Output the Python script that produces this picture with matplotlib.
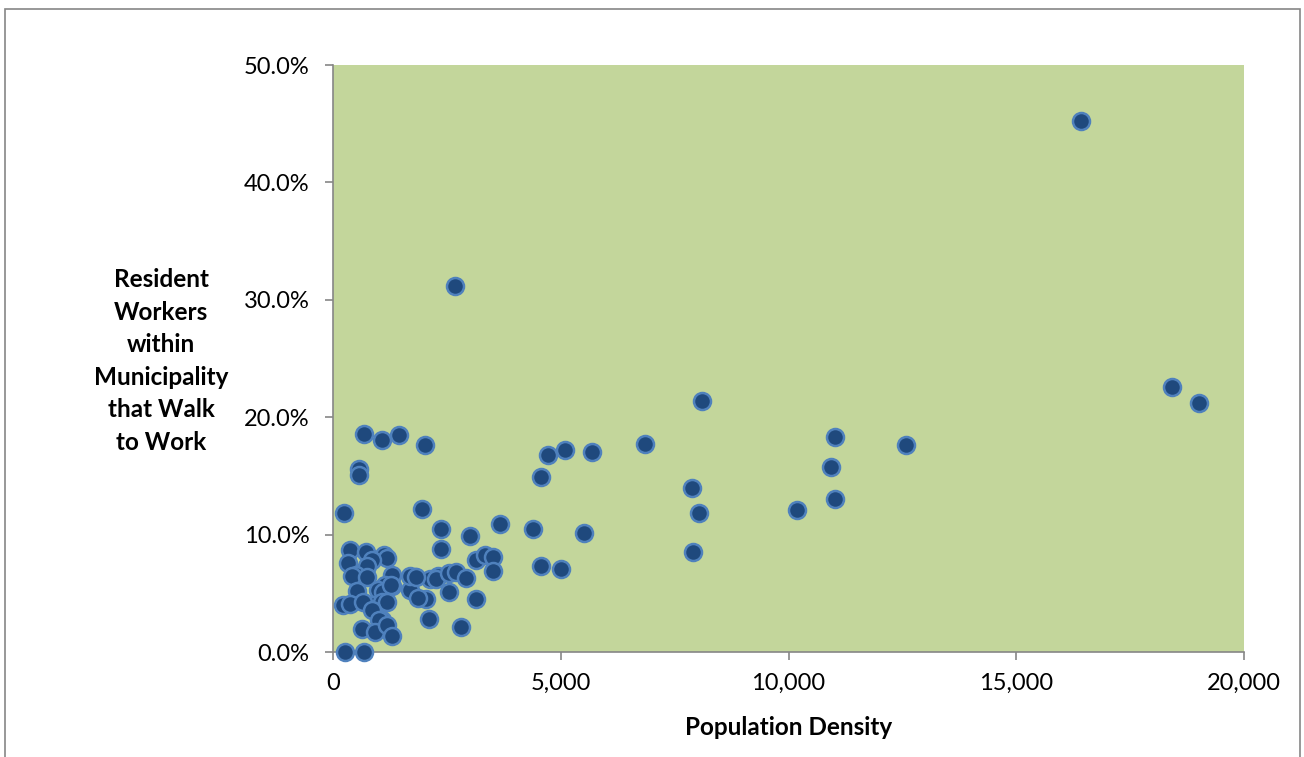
import matplotlib.pyplot as plt
from matplotlib.patches import Rectangle
from matplotlib.ticker import FuncFormatter

# population density vs share of resident workers walking to work (%)
density = [2681, 16420, 18420, 19010, 8090, 11030, 12570, 6840, 4730, 5100,
           5690, 4570, 10940, 7870, 8040, 11010, 10180, 5500, 4400, 7910,
           4570, 5010, 3656, 2996, 2381, 2374, 3136, 3326, 3502, 3502,
           2132, 2315, 2264, 2550, 2704, 2923, 2550, 3136, 2117, 2813,
           2037, 688, 1084, 1451, 2022, 578, 571, 249, 1956,
           374, 725, 1128, 1194, 337, 850, 740, 498, 411, 754,
           1290, 1143, 520, 996, 1290, 1802, 1692, 1875, 1106, 1275,
           227, 374, 886, 1070, 666, 1180, 864, 1070, 1011, 630,
           923, 1180, 1290, 264, 688, 1692, 1817]
walk_pct = [31.2, 45.2, 22.6, 21.2, 21.4, 18.3, 17.6, 17.7, 16.8, 17.2,
            17.0, 14.9, 15.8, 14.0, 11.8, 13.0, 12.1, 10.1, 10.5, 8.5,
            7.3, 7.1, 10.9, 9.9, 10.5, 8.8, 7.8, 8.3, 8.1, 6.9,
            6.2, 6.5, 6.2, 6.7, 6.8, 6.3, 5.1, 4.5, 2.8, 2.1,
            4.5, 18.6, 18.1, 18.5, 17.6, 15.6, 15.1, 11.8, 12.2,
            8.7, 8.5, 8.3, 8.0, 7.6, 7.8, 7.3, 6.6, 6.5, 6.4,
            6.6, 5.7, 5.2, 5.3, 5.6, 6.4, 5.3, 4.6, 5.1, 5.7,
            4.0, 4.1, 4.0, 4.3, 4.3, 4.3, 3.6, 2.7, 2.7, 2.0,
            1.7, 2.3, 1.4, 0.0, 0.0, 6.5, 6.4]

x_ticks = [0, 5000, 10000, 15000, 20000]
y_ticks = [0, 10, 20, 30, 40, 50]

plt.rcParams['font.family'] = ['Lato', 'DejaVu Sans']

fig = plt.figure(figsize=(13.04, 7.57), dpi=100)
ax = fig.add_axes([0.2554, 0.1387, 0.6986, 0.7754])

# outer chart border
fig.patches.append(Rectangle((0.004, -0.05), 0.993, 1.038, transform=fig.transFigure,
                             fill=False, edgecolor='#868686', linewidth=1.2))

ax.set_facecolor('#c3d69b')
ax.scatter(density, walk_pct, s=150, color='#1f497d', edgecolors='#4f81bd',
           linewidths=1.8, zorder=3, clip_on=False)

ax.set_xlim(0, 20000)
ax.set_ylim(0, 50)
ax.set_xticks(x_ticks)
ax.set_yticks(y_ticks)
ax.xaxis.set_major_formatter(FuncFormatter(lambda v, p: f"{v:,.0f}"))
ax.yaxis.set_major_formatter(FuncFormatter(lambda v, p: f"{v:.1f}%"))

for side in ['top', 'right']:
    ax.spines[side].set_visible(False)
for side in ['left', 'bottom']:
    ax.spines[side].set_color('#868686')
    ax.spines[side].set_linewidth(1.2)
ax.tick_params(direction='out', length=6, width=1.2, color='#868686',
               labelsize=17)
ax.tick_params(axis='y', pad=11)
ax.tick_params(axis='x', pad=9)

fig.text(0.6047, 0.0396, 'Population Density', ha='center', va='center',
         fontsize=17.5, fontweight='bold')
fig.text(0.1235, 0.523, 'Resident\nWorkers\nwithin\nMunicipality\nthat Walk\nto Work',
         ha='center', va='center', fontsize=17.5, fontweight='bold', linespacing=1.5)

fig.savefig('out.png', dpi=100)
